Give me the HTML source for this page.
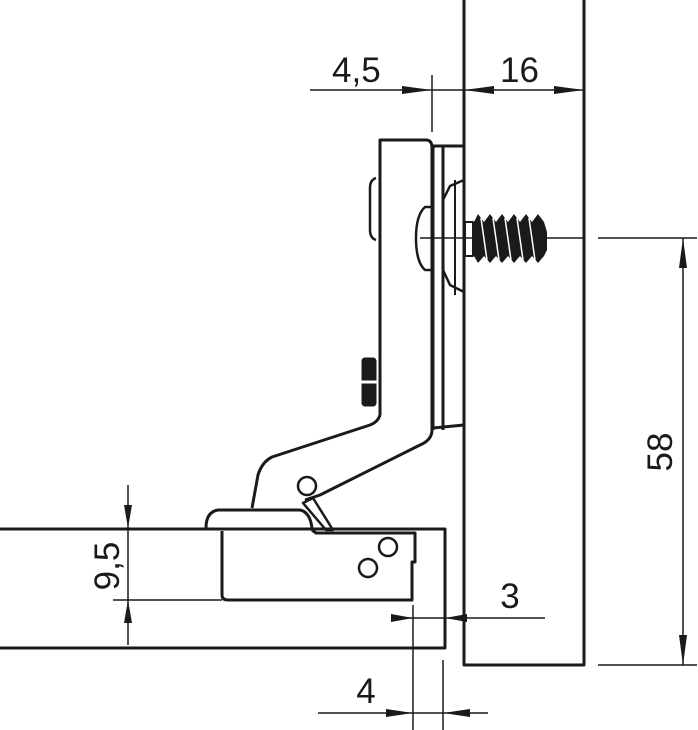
<!DOCTYPE html>
<html><head><meta charset="utf-8"><style>
html,body{margin:0;padding:0;background:#fff}
svg{display:block}
text{font-family:"Liberation Sans",sans-serif;fill:#1a1a1a}
</style></head><body>
<svg width="698" height="730" viewBox="0 0 698 730" xmlns="http://www.w3.org/2000/svg">
<g fill="none" stroke="#1a1a1a" stroke-width="3" stroke-linejoin="round">
<polyline points="464,0 464,665 584,665 584,0"/>
<polyline points="0,529 445,529 445,648 0,648"/>
<polyline points="433,146 464,146"/>
<line x1="433" y1="146" x2="433" y2="430"/>
<line x1="443" y1="146" x2="443" y2="430"/>
<line x1="455" y1="180" x2="455" y2="295" stroke-width="2"/>
<polyline points="443,200 450,186 464,180" stroke-width="2.5"/>
<polyline points="443,270 450,285 464,292" stroke-width="2.5"/>
<line x1="433" y1="428" x2="464" y2="425"/>
<path d="M380,415 L380,140 L426,140 Q432,140 432,148 L432,430 Q432,440 420,445 L320,495 L305,500"/>
<path d="M380,415 Q378,422 370,425 L272,457 Q262,462 258,475 L252,508"/>
<path d="M376,178 Q370,180 370,188 L370,230 Q370,238 376,240" stroke-width="2.5"/>
<rect x="362" y="358" width="14" height="48" rx="3" fill="#1a1a1a" stroke-width="1"/>
<line x1="360" y1="382" x2="378" y2="382" stroke="#fff" stroke-width="3"/>
<path d="M433,207 L425,207 Q416,215 416,238 Q416,262 425,270 L433,270" stroke-width="2.5"/>
<rect x="465" y="222" width="8" height="34" stroke-width="2"/>
<path d="M206,528 Q206,512 218,510 L300,510 Q310,512 312,528"/>
<circle cx="307" cy="486" r="9" stroke-width="2.5"/>
<path d="M303,503 L313,498 L333,530 L326,530 Z" stroke-width="2.5"/>
<path d="M222,531 L222,595 Q222,600 228,600 L412,600 L412,562 L415,562 L415,533 L410,533 L316,533 L312,530"/>
<circle cx="388" cy="547" r="9" stroke-width="2.5"/>
<circle cx="368" cy="568" r="9" stroke-width="2.5"/>
</g>
<!-- screw thread -->
<g fill="#1a1a1a">
<polygon points="474,222 478,214 484,222 490,214 496,222 502,214 508,222 514,214 520,222 526,214 532,222 538,214 544,222 547,232 547,250 544,256 538,263 532,256 526,263 520,256 514,263 508,256 502,263 496,256 490,263 484,256 478,263 474,256"/>
</g>
<g stroke="#fff" stroke-width="1.5">
<line x1="481" y1="218" x2="487" y2="260"/><line x1="493" y1="218" x2="499" y2="260"/>
<line x1="505" y1="218" x2="511" y2="260"/><line x1="517" y1="218" x2="523" y2="260"/>
<line x1="529" y1="218" x2="535" y2="260"/>
</g>
<g stroke="#1a1a1a" stroke-width="1.5" fill="none">
<line x1="420" y1="238" x2="474" y2="238"/>
<line x1="547" y1="238" x2="584" y2="238"/>
<line x1="310" y1="90" x2="584" y2="90"/>
<line x1="432" y1="75" x2="432" y2="132"/>
<line x1="598" y1="238" x2="697" y2="238"/>
<line x1="598" y1="665" x2="697" y2="665"/>
<line x1="683" y1="238" x2="683" y2="665"/>
<line x1="128" y1="485" x2="128" y2="645"/>
<line x1="113" y1="600" x2="222" y2="600"/>
<line x1="400" y1="618" x2="545" y2="618"/>
<line x1="413" y1="605" x2="413" y2="730"/>
<line x1="443" y1="660" x2="443" y2="730"/>
<line x1="318" y1="713" x2="488" y2="713"/>
</g>
<g fill="#1a1a1a">
<polygon points="432,90 402,86 402,94"/>
<polygon points="464,90 494,86 494,94"/>
<polygon points="584,90 554,86 554,94"/>
<polygon points="683,238 679,268 687,268"/>
<polygon points="683,665 679,635 687,635"/>
<polygon points="128,528 124,505 132,505"/>
<polygon points="128,600 124,623 132,623"/>
<polygon points="413,618 391,614 391,622"/>
<polygon points="445,618 467,614 467,622"/>
<polygon points="413,713 386,709 386,717"/>
<polygon points="443,713 470,709 470,717"/>
</g>
<text x="332" y="82" font-size="35">4,5</text>
<text x="500" y="82" font-size="35">16</text>
<text x="366" y="703" font-size="35" text-anchor="middle">4</text>
<text x="510" y="608" font-size="35" text-anchor="middle">3</text>
<text transform="translate(672,452) rotate(-90)" font-size="35" text-anchor="middle">58</text>
<text transform="translate(119,566) rotate(-90)" font-size="35" text-anchor="middle">9,5</text>
</svg>
</body></html>
